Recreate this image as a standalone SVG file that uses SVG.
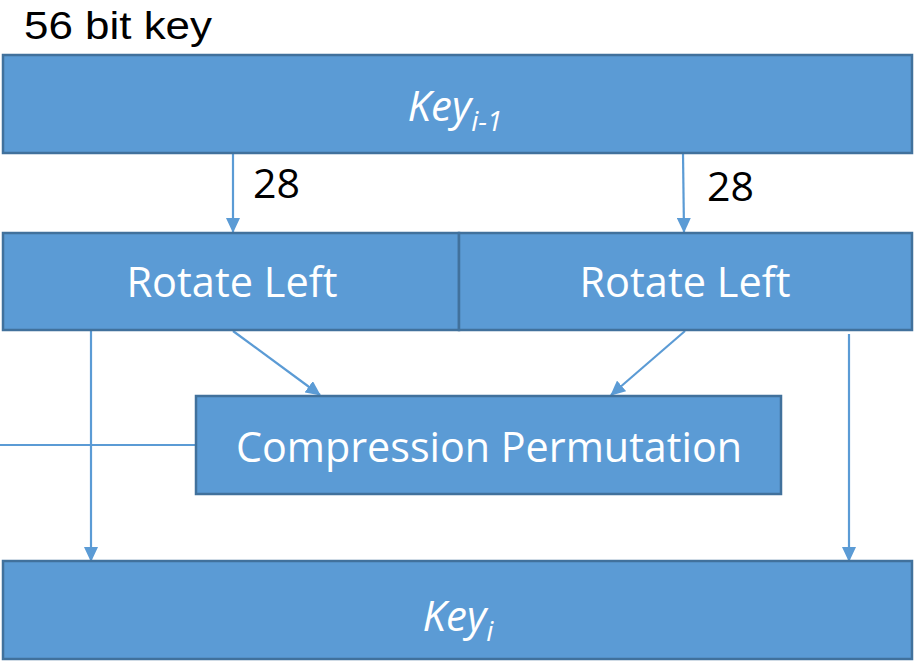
<svg xmlns="http://www.w3.org/2000/svg" width="914" height="664" viewBox="0 0 914 664">
  <style>
    .box { fill: #5B9BD5; stroke: #41719C; stroke-width: 2.5; }
    .lbl { font-family: "Open Sans", "Liberation Sans", sans-serif; fill: #FFFFFF; text-anchor: middle; }
    .blk { font-family: "Open Sans", "Liberation Sans", sans-serif; fill: #000000; }
    .wire { stroke: #5B9BD5; stroke-width: 2.2; fill: none; }
    .arr { stroke: #5B9BD5; stroke-width: 2.2; fill: none; marker-end: url(#head); }
  </style>
  <defs>
    <marker id="head" viewBox="0 0 15 14" refX="14" refY="7" markerWidth="15" markerHeight="14" markerUnits="userSpaceOnUse" orient="auto">
      <path d="M0,0 L15,7 L0,14 Z" fill="#5B9BD5"/>
    </marker>
  </defs>

  <text x="24" y="39" font-family="'Liberation Sans', Arial, sans-serif" font-size="38" fill="#000000" textLength="188" lengthAdjust="spacingAndGlyphs">56 bit key</text>

  <g id="connectors">
    <line class="arr" x1="233" y1="153" x2="233" y2="232"/>
    <line class="arr" x1="683" y1="153" x2="684" y2="232"/>
    <line class="arr" x1="233" y1="331" x2="320" y2="395"/>
    <line class="arr" x1="685" y1="331" x2="611" y2="395"/>
    <line class="wire" x1="0" y1="445" x2="196" y2="445"/>
    <line class="arr" x1="91" y1="331" x2="91" y2="561"/>
    <line class="arr" x1="849" y1="334" x2="849" y2="561"/>
    <text class="blk" x="253" y="198" font-size="40" textLength="47" lengthAdjust="spacingAndGlyphs">28</text>
    <text class="blk" x="707" y="201" font-size="40" textLength="47" lengthAdjust="spacingAndGlyphs">28</text>
  </g>

  <g id="key-prev">
    <rect class="box" x="3" y="55" width="909" height="98"/>
    <text class="lbl" x="455" y="121" font-size="42" font-style="italic">Key<tspan font-size="28" dy="10">i-1</tspan></text>
  </g>

  <g id="rotate-left-1">
    <rect class="box" x="3" y="233" width="456" height="97"/>
    <text class="lbl" x="232" y="297" font-size="42" textLength="211" lengthAdjust="spacingAndGlyphs">Rotate Left</text>
  </g>

  <g id="rotate-left-2">
    <rect class="box" x="459" y="233" width="453" height="97"/>
    <text class="lbl" x="685" y="297" font-size="42" textLength="211" lengthAdjust="spacingAndGlyphs">Rotate Left</text>
  </g>

  <g id="compression-permutation">
    <rect class="box" x="196" y="396" width="585" height="98"/>
    <text class="lbl" x="489" y="462" font-size="42" textLength="506" lengthAdjust="spacingAndGlyphs">Compression Permutation</text>
  </g>

  <g id="key-next">
    <rect class="box" x="3" y="561" width="909" height="98"/>
    <text class="lbl" x="458" y="631" font-size="42" font-style="italic">Key<tspan font-size="28" dy="10">i</tspan></text>
  </g>
</svg>
